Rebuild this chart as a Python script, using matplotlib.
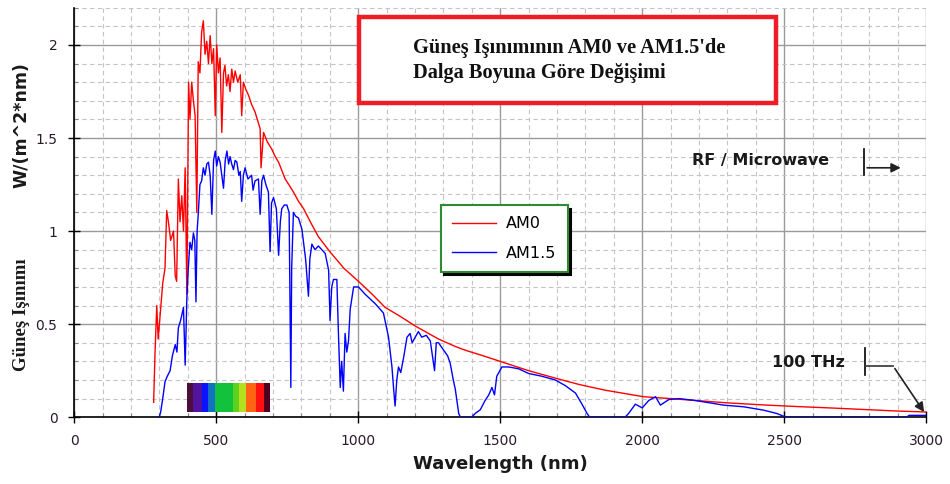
import numpy as np
import matplotlib.pyplot as plt
from matplotlib.patches import Rectangle
from matplotlib.ticker import MultipleLocator

# ── Data ──────────────────────────────────────────────────────────────────────

am0_nm = [280, 285, 291, 296, 303, 312, 320, 326, 332, 340, 350, 356, 361, 367,
          373, 379, 385, 391, 397, 403, 408, 414, 420, 426, 432, 437, 443, 449,
          455, 461, 467, 473, 479, 485, 491, 497, 502, 508, 514, 520, 526, 531,
          537, 543, 549, 555, 561, 567, 576, 585, 590, 596, 605, 614, 625, 637,
          645, 655, 658, 667, 680, 696, 708, 720, 743, 760, 772, 790, 808, 835,
          860, 900, 950, 1001, 1050, 1095, 1150, 1201, 1283, 1342, 1377, 1440,
          1500, 1600, 1694, 1780, 1870, 2005, 2100, 2186, 2300, 2439, 2550,
          2674, 2800, 2900, 3000]
am0_irr = [0.08, 0.35, 0.60, 0.42, 0.55, 0.72, 0.80, 1.11, 1.05, 0.95, 1.00,
           0.76, 0.73, 1.28, 1.05, 1.19, 1.00, 1.34, 0.66, 1.80, 1.60, 1.80,
           1.70, 1.62, 1.10, 1.91, 1.85, 2.07, 2.13, 1.95, 2.02, 1.90, 2.05,
           1.90, 1.98, 1.62, 2.00, 1.85, 1.93, 1.53, 1.85, 1.89, 1.78, 1.84,
           1.75, 1.87, 1.80, 1.86, 1.80, 1.84, 1.62, 1.80, 1.76, 1.73, 1.68,
           1.64, 1.60, 1.55, 1.34, 1.53, 1.48, 1.44, 1.40, 1.37, 1.28, 1.24,
           1.21, 1.16, 1.12, 1.04, 0.97, 0.89, 0.80, 0.73, 0.66, 0.59, 0.54,
           0.49, 0.42, 0.38, 0.36, 0.33, 0.30, 0.25, 0.21, 0.175, 0.145, 0.11,
           0.10, 0.09, 0.077, 0.065, 0.057, 0.049, 0.040, 0.033, 0.028]

am15_nm = [300, 305, 312, 320, 328, 338, 346, 356, 362, 367, 375, 385, 391, 397,
           402, 408, 414, 420, 425, 429, 433, 437, 443, 449, 455, 461, 467, 473,
           479, 485, 491, 497, 502, 508, 514, 520, 526, 532, 538, 544, 549, 555,
           561, 567, 573, 580, 585, 590, 596, 602, 612, 625, 630, 637, 649, 655,
           661, 667, 675, 684, 690, 695, 702, 712, 720, 726, 731, 740, 749, 757,
           763, 766, 772, 780, 790, 802, 815, 825, 830, 837, 848, 860, 872, 884,
           896, 901, 907, 913, 925, 931, 937, 942, 948, 954, 960, 966, 972, 984,
           1001, 1025, 1060, 1089, 1107, 1113, 1119, 1125, 1130, 1136, 1142,
           1150, 1160, 1172, 1183, 1190, 1201, 1212, 1224, 1240, 1254, 1269,
           1275, 1283, 1301, 1315, 1324, 1335, 1342, 1354, 1360, 1400, 1412,
           1430, 1447, 1460, 1471, 1480, 1488, 1506, 1530, 1565, 1600, 1647,
           1694, 1729, 1765, 1788, 1806, 1815, 1940, 1952, 1976, 2000, 2023,
           2047, 2064, 2094, 2130, 2186, 2286, 2357, 2427, 2474, 2498, 2510,
           2930, 2940, 3000]
am15_irr = [0.0, 0.03, 0.10, 0.19, 0.22, 0.25, 0.33, 0.39, 0.35, 0.48, 0.52,
            0.59, 0.28, 0.64, 0.80, 0.94, 0.90, 0.99, 0.95, 0.62, 1.00, 1.09,
            1.25, 1.27, 1.34, 1.30, 1.36, 1.37, 1.30, 1.09, 1.38, 1.43, 1.35,
            1.40, 1.37, 1.30, 1.23, 1.38, 1.43, 1.36, 1.40, 1.36, 1.33, 1.38,
            1.37, 1.30, 1.32, 1.16, 1.30, 1.34, 1.28, 1.30, 1.22, 1.27, 1.28,
            1.09, 1.27, 1.30, 1.25, 1.21, 0.89, 1.15, 1.18, 1.12, 0.87, 1.05,
            1.12, 1.14, 1.14, 1.10, 0.16, 0.80, 1.10, 1.08, 1.07, 1.01, 0.85,
            0.65, 0.85, 0.93, 0.90, 0.92, 0.90, 0.88, 0.79, 0.52, 0.70, 0.74,
            0.74, 0.43, 0.16, 0.30, 0.14, 0.45, 0.35, 0.41, 0.58, 0.70, 0.70,
            0.66, 0.61, 0.56, 0.43, 0.35, 0.27, 0.15, 0.06, 0.20, 0.27, 0.24,
            0.32, 0.43, 0.45, 0.40, 0.43, 0.46, 0.43, 0.44, 0.41, 0.25, 0.40,
            0.40, 0.36, 0.33, 0.29, 0.20, 0.15, 0.02, 0.0, 0.0, 0.02, 0.04,
            0.09, 0.12, 0.16, 0.12, 0.22, 0.27, 0.27, 0.26, 0.235, 0.22, 0.20,
            0.17, 0.13, 0.07, 0.02, 0.0, 0.0, 0.02, 0.07, 0.05, 0.09, 0.11,
            0.065, 0.095, 0.10, 0.09, 0.065, 0.056, 0.038, 0.02, 0.005, 0.0,
            0.0, 0.01, 0.01]

# visible band strip (nm edges and colours)
band_edges = [397, 418, 450, 473, 496, 561, 579, 606, 641, 670, 688]
band_colors = ['#4b0f3c', '#5214a0', '#0a14ff', '#1470c0', '#12c23c',
               '#5ed020', '#b4e01e', '#ff6414', '#ff1010', '#50001e']

x_ticks = [0, 500, 1000, 1500, 2000, 2500, 3000]
y_ticks = [0, 0.5, 1, 1.5, 2]
y_tick_labels = ['0', '0.5', '1', '1.5', '2']

# ── Figure ────────────────────────────────────────────────────────────────────

fig = plt.figure(figsize=(9.5, 4.84), dpi=100)
ax = fig.add_axes([0.078, 0.138, 0.897, 0.846])

ax.plot(am0_nm, am0_irr, color='#ff0000', lw=1.0, label='AM0', zorder=4)
ax.plot(am15_nm, am15_irr, color='#0000ff', lw=1.0, label='AM1.5', zorder=5)

# colour strip of visible light
ax.bar(band_edges[:-1], 0.155, width=np.diff(band_edges), bottom=0.027,
       align='edge', color=band_colors, linewidth=0, zorder=3)

ax.set_xlim(0, 3000)
ax.set_ylim(0, 2.2)
ax.set_xticks(x_ticks)
ax.set_yticks(y_ticks)
ax.set_yticklabels(y_tick_labels)
ax.xaxis.set_minor_locator(MultipleLocator(100))
ax.yaxis.set_minor_locator(MultipleLocator(0.1))

ax.grid(which='major', color='#9a9a9a', lw=1.0, ls='-', zorder=0)
ax.grid(which='minor', color='#c4c4c4', lw=0.8, ls=(0, (4, 3)), zorder=0)
ax.set_axisbelow(True)

for s in ['top', 'right']:
    ax.spines[s].set_visible(False)
for s in ['left', 'bottom']:
    ax.spines[s].set_color('black')
    ax.spines[s].set_linewidth(1.2)

ax.tick_params(which='major', direction='inout', length=8, width=1,
               labelsize=10, labelcolor='#2a1a2a', pad=8)
ax.tick_params(which='minor', direction='in', length=3, width=0.8,
               color='#888888')

ax.set_xlabel('Wavelength (nm)', fontsize=13, fontweight='bold',
              color='#1a1a1a', labelpad=5)

# y label in two parts
fig.text(0.023, 0.742, 'W/(m^2*nm)', rotation=90, ha='center', va='center',
         fontsize=12.5, fontweight='bold', color='#1a1a1a')
fig.text(0.023, 0.349, 'Güneş Işınımı', rotation=90, ha='center', va='center',
         fontsize=13.5, fontweight='bold', family='Liberation Serif',
         color='#1a1a1a')

# legend
leg = ax.legend(loc='upper left', bbox_to_anchor=(0.43, 0.518),
                borderaxespad=0, fancybox=False, fontsize=11.5,
                handlelength=2.8, handletextpad=0.6, labelspacing=0.9,
                borderpad=0.7,
                shadow={'color': 'black', 'alpha': 1.0, 'ox': 2.5, 'oy': -2.5})
leg.get_frame().set_edgecolor('#2e8b2e')
leg.get_frame().set_linewidth(1.5)
leg.get_frame().set_alpha(1)

# title box
fig.patches.append(Rectangle((0.378, 0.787), 0.439, 0.178,
                             transform=fig.transFigure, facecolor='white',
                             edgecolor='#ee1c24', lw=3.2, zorder=5))
fig.text(0.435, 0.901, "Güneş Işınımının AM0 ve AM1.5'de", fontsize=14.7,
         fontweight='bold', family='Liberation Serif', va='center',
         color='#111111', zorder=6)
fig.text(0.435, 0.849, 'Dalga Boyuna Göre Değişimi', fontsize=14.7,
         fontweight='bold', family='Liberation Serif', va='center',
         color='#111111', zorder=6)

# RF / Microwave marker
ax.text(2176, 1.38, 'RF / Microwave', fontsize=11.5, fontweight='bold',
        va='center', color='#1a1a1a')
ax.plot([2782, 2782], [1.30, 1.44], color='black', lw=1.2)
ax.annotate('', xy=(2920, 1.34), xytext=(2782, 1.34),
            arrowprops=dict(arrowstyle='-|>', color='#222222', lw=1.2,
                            mutation_scale=14))

# 100 THz marker
ax.text(2458, 0.296, '100 THz', fontsize=11.5, fontweight='bold',
        va='center', color='#1a1a1a')
ax.plot([2785, 2785], [0.226, 0.37], color='black', lw=1.2)
ax.plot([2785, 2884], [0.274, 0.274], color='#333333', lw=1.2)
ax.annotate('', xy=(2998, 0.015), xytext=(2884, 0.274),
            arrowprops=dict(arrowstyle='-|>', color='#222222', lw=1.2,
                            mutation_scale=14), annotation_clip=False)

fig.savefig('out.png', dpi=100, facecolor='white')
